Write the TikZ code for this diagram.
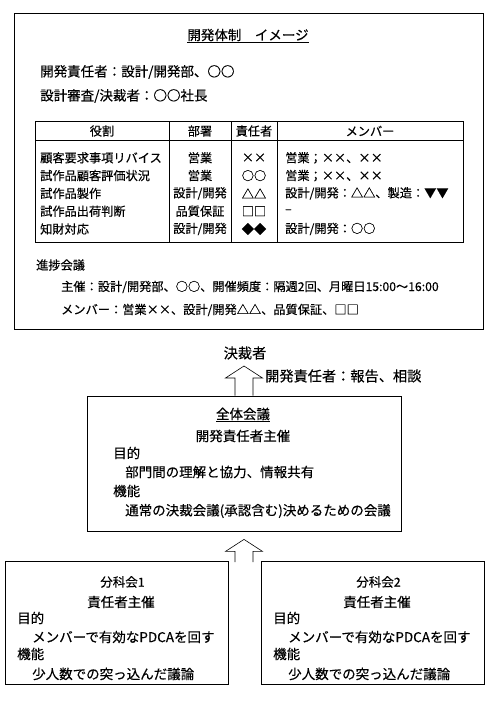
\documentclass[tikz,border=0pt]{standalone}
\usepackage{fontspec}
\setmainfont{Noto Sans CJK JP}[FakeBold=0.3]
\usetikzlibrary{calc}
\tikzset{
  frame/.style={draw, line width=0.8pt, inner sep=0pt},
  txt/.style={anchor=west, inner sep=0pt},
  mid/.style={inner sep=0pt},
  tbl/.style={font=\fontsize{12.2}{14}\selectfont},
  sub/.style={font=\fontsize{12.5}{14}\selectfont},
  big/.style={font=\fontsize{14.2}{16}\selectfont},
}
\newcommand\hollowup[2]{%
  \draw[line width=0.6pt] ($(#1)+(-9,0)$) -- ($(#2)+(-9,12)$) -- ($(#2)+(-18.5,12)$)
    -- (#2) -- ($(#2)+(18.5,12)$) -- ($(#2)+(9,12)$) -- ($(#1)+(9,0)$);}
\begin{document}
\begin{tikzpicture}[x=1pt, y=-1pt, font=\fontsize{13.5}{16}\selectfont]
  \useasboundingbox (0,0) rectangle (493,701);
  \node[frame, minimum width=469, minimum height=316] (plan) at (248.5,171) {};
  \node[mid] (title) at (248,36) {\underline{開発体制　イメージ}};
  \node[txt] (lead) at (40,72) {開発責任者：設計/開発部、○○};
  \node[txt] (review) at (40,96) {設計審査/決裁者：○○社長};
  \draw[line width=0.6pt] (35,121) rectangle (463,242);
  \draw[line width=0.6pt] (35,140) -- (463,140);
  \foreach \x in {169, 231, 277}{
    \draw[line width=0.6pt] (\x,121) -- (\x,242);
  }
  \begin{scope}[tbl]
    \node[mid] (h-role) at (102,131) {役割};
    \node[mid] (h-dept) at (200,131) {部署};
    \node[mid] (h-head) at (254,131) {責任者};
    \node[mid] (h-mem) at (370,131) {メンバー};
    \foreach \role/\dept/\head/\mem [count=\i] in {
        顧客要求事項リバイス/営業/××/営業；××、××,
        試作品顧客評価状況/営業/○○/営業；××、××,
        試作品製作/{設計/開発}/△△/{設計/開発：△△、製造：▼▼},
        試作品出荷判断/品質保証/□□/–,
        知財対応/{設計/開発}/◆◆/{設計/開発：○○}}{
      \node[txt] (role-\i) at (40,{140+17.8*\i}) {\role};
      \node[mid] (dept-\i) at (200,{140+17.8*\i}) {\dept};
      \node[mid] (head-\i) at (254,{140+17.8*\i}) {\head};
      \node[txt] (mem-\i) at (285,{140+17.8*\i}) {\mem};
    }
    \node[txt] (prog) at (36,265) {進捗会議};
    \node[txt] (prog-host) at (61,287) {主催：設計/開発部、○○、開催頻度：隔週2回、月曜日15:00～16:00};
    \node[txt] (prog-mem) at (61,310) {メンバー：営業××、設計/開発△△、品質保証、□□};
  \end{scope}
  \node[mid, big] (boss) at (245,353) {決裁者};
  \node[txt, big] (report) at (265,376) {開発責任者：報告、相談};
  \node[frame, minimum width=314, minimum height=135] (zentai) at (244,463.5) {};
  \node[mid] (z-title) at (243,415) {\underline{全体会議}};
  \node[mid] (z-host) at (243,436) {開発責任者主催};
  \node[txt] (z-aim) at (113,453) {目的};
  \node[txt] (z-aim2) at (125,472) {部門間の理解と協力、情報共有};
  \node[txt] (z-func) at (113,491) {機能};
  \node[txt] (z-func2) at (125,511) {通常の決裁会議(承認含む)決めるための会議};
  \coordinate (tip1) at (244,366);
  \hollowup{zentai.north}{tip1}
  \foreach \n/\x in {1/5, 2/261}{
    \node[frame, minimum width=223, minimum height=123, anchor=north west] (bunka\n) at (\x,561) {};
    \node[mid, sub] (b\n-title) at (\x+117.5,582) {分科会\n};
    \node[mid] (b\n-host) at (\x+116,602) {責任者主催};
    \node[txt] (b\n-aim) at (\x+12,618) {目的};
    \node[txt] (b\n-aim2) at (\x+27,637) {メンバーで有効なPDCAを回す};
    \node[txt] (b\n-func) at (\x+12,654) {機能};
    \node[txt] (b\n-func2) at (\x+27,674) {少人数での突っ込んだ議論};
  }
  \coordinate (foot2) at (244,562);
  \coordinate (tip2) at ($(zentai.south)+(0,8)$);
  \hollowup{foot2}{tip2}
\end{tikzpicture}
\end{document}
